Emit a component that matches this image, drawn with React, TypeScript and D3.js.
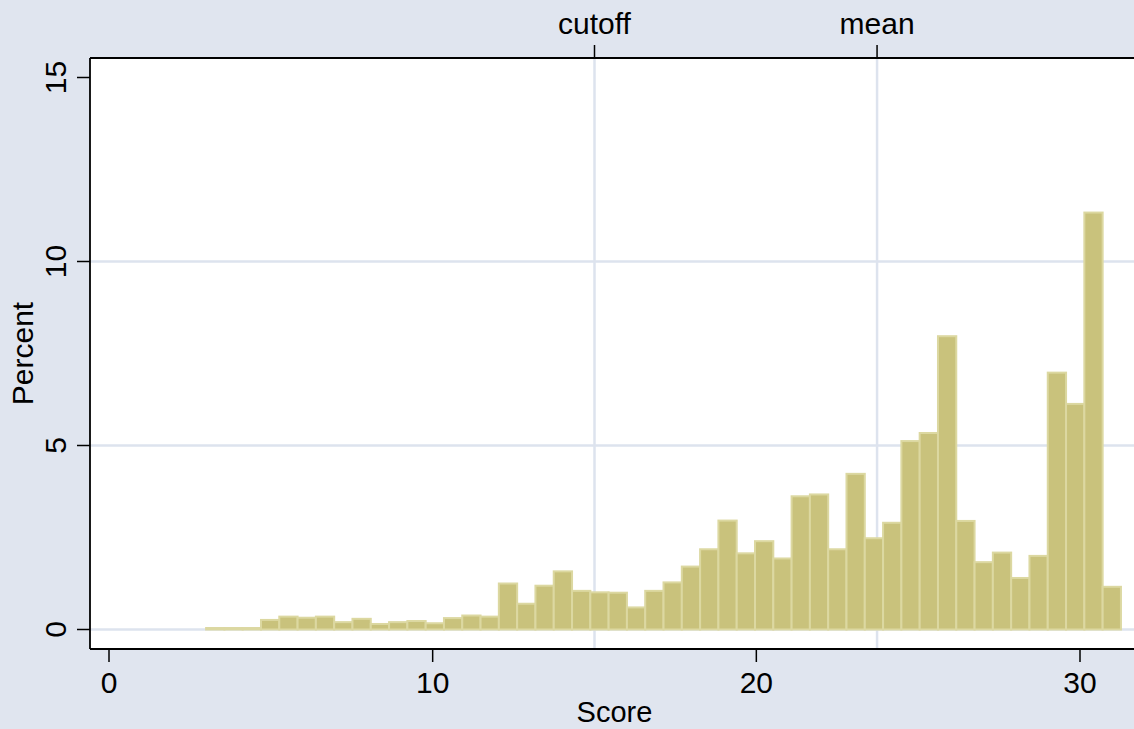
import React from "react";
import * as d3 from "d3";

// histogram of scores, bins of equal width starting at binStart
const binStart = 3;
const binWidth = 0.5653;
const percents = [
  0.04, 0.04, 0.04, 0.26, 0.35, 0.32, 0.35, 0.2, 0.29, 0.15,
  0.2, 0.23, 0.17, 0.31, 0.38, 0.35, 1.25, 0.7, 1.19, 1.58,
  1.05, 1.01, 1.0, 0.6, 1.05, 1.28, 1.71, 2.18, 2.96, 2.07,
  2.4, 1.93, 3.62, 3.67, 2.18, 4.23, 2.48, 2.9, 5.12, 5.34,
  7.97, 2.95, 1.83, 2.09, 1.4, 2.0, 6.98, 6.13, 11.33, 1.16,
];

const xTicks = [0, 10, 20, 30];
const yTicks = [0, 5, 10, 15];
const yGrid = [0, 5, 10];
const refLines = [
  { label: "cutoff", value: 15 },
  { label: "mean", value: 23.73 },
];

const W = 1134;
const H = 729;
const bg = "#e0e5ef";
const grid = "#dde3ee";
const font = "'Liberation Sans', Arial, sans-serif";

export default function App() {
  const plot = { left: 90, right: 1139, top: 58, bottom: 649 };

  const x = d3.scaleLinear().domain([0, 30]).range([109, 1080]);
  const y = d3.scaleLinear().domain([0, 15]).range([629.5, 77.5]);

  const bars = percents.map((p, i) => ({
    x0: binStart + i * binWidth,
    x1: binStart + (i + 1) * binWidth,
    p,
  }));

  return (
    <svg
      width={W}
      height={H}
      style={{ position: "absolute", left: 0, top: 0, display: "block" }}
      fontFamily={font}
    >
      <rect width={W} height={H} fill={bg} />
      <rect
        x={plot.left}
        y={plot.top}
        width={plot.right - plot.left}
        height={plot.bottom - plot.top}
        fill="#fff"
      />

      {/* gridlines */}
      {yGrid.map((t) => (
        <line
          key={"g" + t}
          x1={plot.left}
          x2={plot.right}
          y1={y(t)}
          y2={y(t)}
          stroke={grid}
          strokeWidth={2.5}
        />
      ))}
      {refLines.map((r) => (
        <line
          key={"r" + r.label}
          x1={x(r.value)}
          x2={x(r.value)}
          y1={plot.top}
          y2={plot.bottom}
          stroke={grid}
          strokeWidth={2.5}
        />
      ))}

      {/* bars */}
      {bars.map((b, i) => (
        <rect
          key={i}
          x={x(b.x0)}
          y={y(b.p)}
          width={x(b.x1) - x(b.x0)}
          height={y(0) - y(b.p)}
          fill="#c9c27c"
          stroke="#dcd8a1"
          strokeWidth={2}
        />
      ))}

      {/* axes lines */}
      <line x1={plot.left} x2={plot.left} y1={plot.top} y2={plot.bottom} stroke="#000" strokeWidth={1.8} />
      <line x1={plot.left} x2={plot.right} y1={plot.bottom} y2={plot.bottom} stroke="#000" strokeWidth={1.8} />
      <line x1={plot.left} x2={plot.right} y1={plot.top} y2={plot.top} stroke="#000" strokeWidth={1.8} />

      {/* y axis */}
      {yTicks.map((t) => (
        <g key={"y" + t}>
          <line x1={plot.left - 13} x2={plot.left} y1={y(t)} y2={y(t)} stroke="#000" strokeWidth={1.5} />
          <text
            transform={`translate(66,${y(t)}) rotate(-90)`}
            textAnchor="middle"
            fontSize={30}
            fill="#000"
          >
            {t}
          </text>
        </g>
      ))}
      <text
        transform={`translate(33,${(plot.top + plot.bottom) / 2}) rotate(-90)`}
        textAnchor="middle"
        fontSize={30}
        fill="#000"
      >
        Percent
      </text>

      {/* x axis */}
      {xTicks.map((t) => (
        <g key={"x" + t}>
          <line x1={x(t)} x2={x(t)} y1={plot.bottom} y2={plot.bottom + 13} stroke="#000" strokeWidth={1.5} />
          <text x={x(t)} y={693} textAnchor="middle" fontSize={30} fill="#000">
            {t}
          </text>
        </g>
      ))}
      <text x={(plot.left + plot.right) / 2} y={722} textAnchor="middle" fontSize={29} fill="#000">
        Score
      </text>

      {/* top axis with reference labels */}
      {refLines.map((r) => (
        <g key={"t" + r.label}>
          <line x1={x(r.value)} x2={x(r.value)} y1={plot.top - 13} y2={plot.top} stroke="#000" strokeWidth={1.5} />
          <text x={x(r.value)} y={34} textAnchor="middle" fontSize={30} fill="#000">
            {r.label}
          </text>
        </g>
      ))}
    </svg>
  );
}
